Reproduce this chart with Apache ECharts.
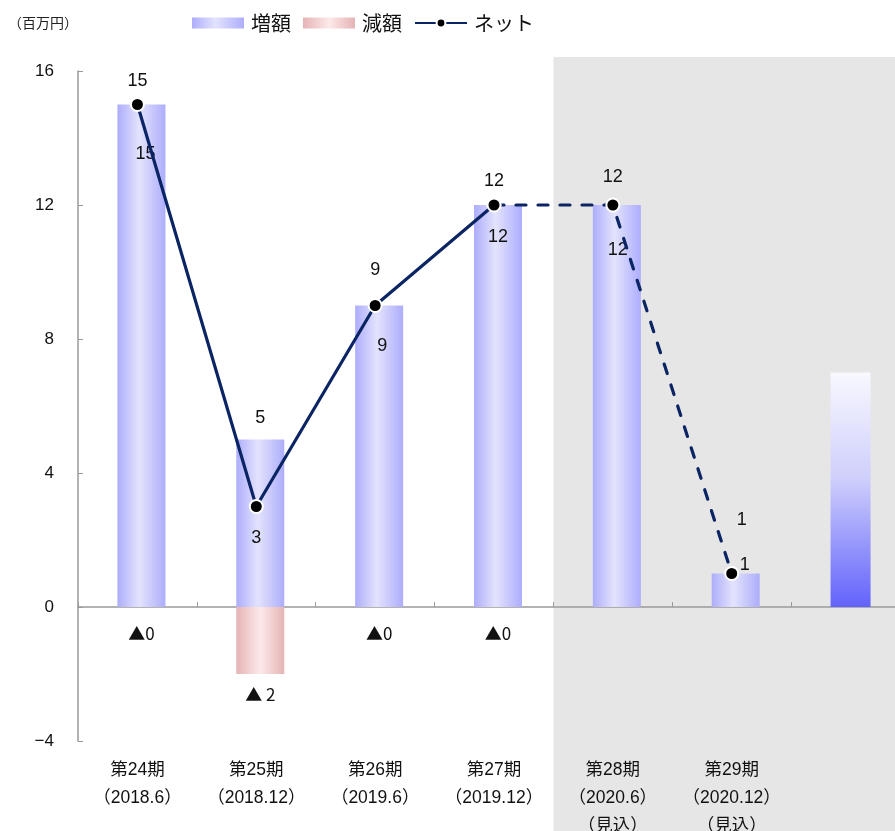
<!DOCTYPE html>
<html>
<head>
<meta charset="utf-8">
<script src="https://cdn.jsdelivr.net/npm/echarts@6/dist/echarts.min.js"></script>
<style>
  html, body { margin: 0; padding: 0; background: #fff; overflow: hidden; }
  #chart { width: 895px; height: 831px; }
</style>
</head>
<body>
<div id="chart"></div>
<script>
// Periods (the last slot holds the forecast bar without a label)
const categories = [
  '第24期\n（2018.6）',
  '第25期\n（2018.12）',
  '第26期\n（2019.6）',
  '第27期\n（2019.12）',
  '第28期\n（2020.6）\n（見込）',
  '第29期\n（2020.12）\n（見込）',
  ''
];
// 増額 (increase), 減額 (decrease), ネット (net) in 百万円
const increaseValues = [15, 5, 9, 12, 12, 1, null];
const decreaseValues = [0, -2, 0, 0, null, null, null];
const netActual      = [15, 3, 9, 12, null, null, null];
const netForecast    = [null, null, null, 12, 12, 1, null];
const outlookValues  = [null, null, null, null, null, null, 7];
const yTicks = { min: -4, max: 16, interval: 4 };

const FONT = "'Liberation Sans', 'Noto Sans CJK JP', sans-serif";
const CJK = "'Noto Sans CJK JP', sans-serif";
const NAVY = '#0b2463';

const blueFill = new echarts.graphic.LinearGradient(0, 0, 1, 0, [
  { offset: 0, color: '#adadfc' },
  { offset: 0.45, color: '#e3e3fd' },
  { offset: 1, color: '#adadfc' }
]);
const redFill = new echarts.graphic.LinearGradient(0, 0, 1, 0, [
  { offset: 0, color: '#e5b3b4' },
  { offset: 0.5, color: '#fde9ea' },
  { offset: 1, color: '#e5b3b4' }
]);
const outlookFill = new echarts.graphic.LinearGradient(0, 0, 0, 1, [
  { offset: 0, color: '#f8f8ff' },
  { offset: 0.45, color: '#cfcffc' },
  { offset: 1, color: '#6262fc' }
]);

// label placement (pixel offsets) for each point
const barLabelOffsets = [[4, 50], [0, -21], [3, 41], [0, 32], [1, 45], [6, -53]];
const netLabelOffsets = [[0, -23], [0, 32], [0, -35], [0, -24], [0, -28], [13, -8]];

const valueLabel = { fontFamily: FONT, fontSize: 18, color: '#111' };

const increaseData = increaseValues.map((v, i) => v == null ? v : ({
  value: v,
  label: { show: true, position: 'top', distance: 0, verticalAlign: 'middle',
           offset: barLabelOffsets[i], ...valueLabel }
}));
const decreaseData = decreaseValues.map(v => v == null ? v : ({
  value: v,
  label: { show: true, position: 'inside', offset: [0, v === 0 ? 27 : 54], ...valueLabel,
           fontFamily: CJK, fontSize: 17,
           formatter: v === 0 ? '▲0' : '▲ ' + Math.abs(v) }
}));
const netLabel = (i) => ({ show: true, position: 'inside', offset: netLabelOffsets[i], ...valueLabel });
const netActualData = netActual.map((v, i) => v == null ? v : ({ value: v, label: netLabel(i) }));
const netForecastData = netForecast.map((v, i) => v == null ? v : ({
  value: v, label: i >= 4 ? netLabel(i) : { show: false }
}));

const chart = echarts.init(document.getElementById('chart'));
const option = {
  animation: false,
  title: {
    text: '（百万円）', left: 3, top: 11,
    textStyle: { fontFamily: CJK, fontSize: 14, fontWeight: 'normal', color: '#222' }
  },
  legend: {
    left: 187, top: 8,
    itemWidth: 52, itemHeight: 11, itemGap: 12,
    textStyle: { fontFamily: CJK, fontSize: 20, color: '#111', padding: [0, 0, 0, 2] },
    data: [
      { name: '増額', icon: 'rect' },
      { name: '減額', icon: 'rect' },
      { name: 'ネット' }
    ]
  },
  grid: { left: 78, top: 71, bottom: 90, width: 832, containLabel: false, outerBoundsMode: 'none' },
  xAxis: [
    {
      type: 'category', data: categories, position: 'bottom',
      axisLine: { onZero: true, lineStyle: { color: '#9a9a9a', width: 1.5 } },
      axisTick: { show: true, inside: true, length: 5, lineStyle: { color: '#9a9a9a' } },
      axisLabel: { show: false }
    },
    {
      type: 'category', data: categories, position: 'bottom',
      axisLine: { show: false, onZero: false },
      axisTick: { show: false },
      axisLabel: { interval: 0, margin: 15, fontFamily: FONT, fontSize: 17.5, lineHeight: 28, color: '#111' }
    }
  ],
  yAxis: {
    type: 'value', min: yTicks.min, max: yTicks.max, interval: yTicks.interval,
    axisLine: { show: true, lineStyle: { color: '#9a9a9a', width: 1.5 } },
    axisTick: { show: true, inside: true, length: 5, lineStyle: { color: '#9a9a9a' } },
    splitLine: { show: false },
    axisLabel: {
      margin: 24, fontFamily: FONT, fontSize: 17, color: '#111',
      formatter: v => v < 0 ? '\u2212' + Math.abs(v) : String(v)
    }
  },
  series: [
    {
      name: '増額', type: 'bar', data: increaseData, barWidth: 48, barGap: '-100%',
      itemStyle: { color: blueFill }, z: 2
    },
    {
      name: '減額', type: 'bar', data: decreaseData, barWidth: 48, barGap: '-100%',
      itemStyle: { color: redFill }, z: 2
    },
    {
      name: 'outlook', type: 'bar', data: outlookValues, barWidth: 40, barGap: '-100%',
      itemStyle: { color: outlookFill, shadowBlur: 12, shadowColor: 'rgba(130,130,255,0.6)' },
      z: 1, silent: true
    },
    {
      name: 'ネット', type: 'line', data: netActualData,
      symbol: 'circle', symbolSize: 13,
      lineStyle: { color: NAVY, width: 3.2 },
      itemStyle: { color: '#000', borderColor: '#fff', borderWidth: 2 },
      z: 5
    },
    {
      name: 'ネット予想', type: 'line', data: netForecastData,
      symbol: 'circle', symbolSize: 13,
      lineStyle: { color: NAVY, width: 3.2, type: [10, 12], cap: 'round' },
      itemStyle: { color: '#000', borderColor: '#fff', borderWidth: 2 },
      z: 4
    }
  ]
};
chart.setOption(option);

// Shade the forecast periods, from the 第28期 band to the right edge
const c4 = chart.convertToPixel({ xAxisIndex: 0 }, categories[4]);
const c5 = chart.convertToPixel({ xAxisIndex: 0 }, categories[5]);
const shadeLeft = c4 - (c5 - c4) / 2;
chart.setOption({
  graphic: [{
    type: 'rect', z: -10, silent: true,
    shape: { x: shadeLeft, y: 57, width: 895 - shadeLeft, height: 831 - 57 },
    style: { fill: '#e6e6e6' }
  }]
});
</script>
</body>
</html>
